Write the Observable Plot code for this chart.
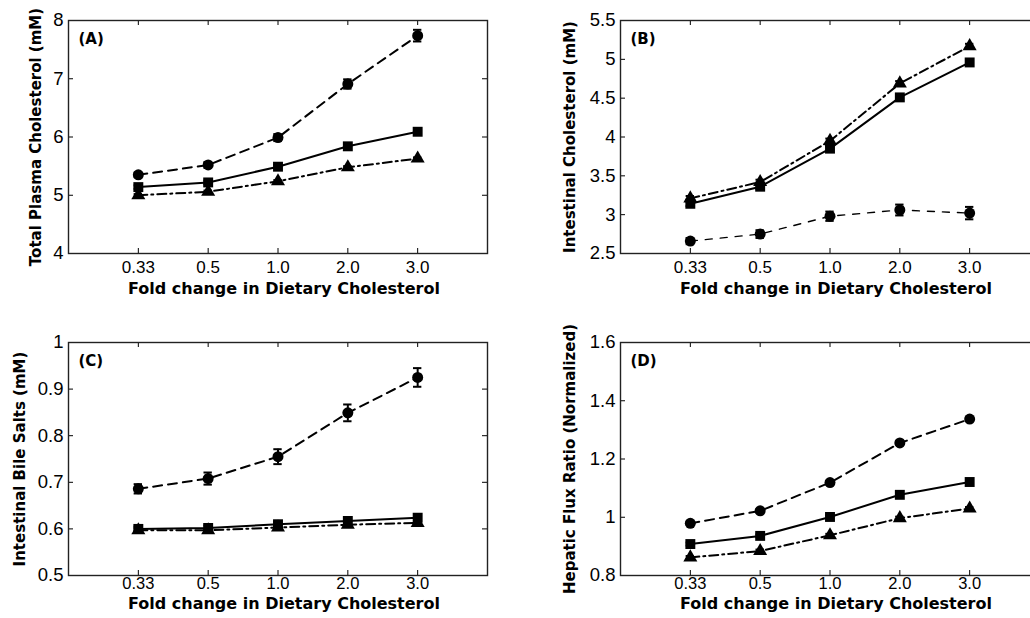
<!DOCTYPE html>
<html><head><meta charset="utf-8">
<script src="https://cdn.jsdelivr.net/npm/d3@7"></script>
<script src="https://cdn.jsdelivr.net/npm/@observablehq/plot@0.6"></script>
<style>
html,body{margin:0;padding:0;background:#fff;overflow:hidden;width:1030px;height:618px}
#wrap{position:relative;width:1030px;height:618px;overflow:hidden;background:#fff}
.panel{position:absolute}
</style></head><body><div id="wrap"></div>
<script>
// ---- data ----
const doseLabels = ["0.33", "0.5", "1.0", "2.0", "3.0"];
const xTitle = "Fold change in Dietary Cholesterol";
const panelTags = ["(A)", "(B)", "(C)", "(D)"];
const yTitles = ["Total Plasma Cholesterol (mM)", "Intestinal Cholesterol (mM)", "Intestinal Bile Salts (mM)", "Hepatic Flux Ratio (Normalized)"];
const yDomains = [[4, 8], [2.5, 5.5], [0.5, 1], [0.8, 1.6]];
const yTickValues = [[4, 5, 6, 7, 8], [2.5, 3, 3.5, 4, 4.5, 5, 5.5], [0.5, 0.6, 0.7, 0.8, 0.9, 1], [0.8, 1, 1.2, 1.4, 1.6]];

// Panel A: total plasma cholesterol
const plasmaCircle = [5.35, 5.52, 5.99, 6.91, 7.74];
const plasmaCircleErr = [0.04, 0.05, 0.06, 0.08, 0.1];
const plasmaSquare = [5.14, 5.22, 5.49, 5.84, 6.09];
const plasmaSquareErr = [0.03, 0.03, 0.03, 0.03, 0.03];
const plasmaTriangle = [5.0, 5.06, 5.24, 5.48, 5.63];
const plasmaTriangleErr = [0.02, 0.02, 0.02, 0.02, 0.02];

// Panel B: intestinal cholesterol
const intCholCircle = [2.66, 2.75, 2.98, 3.06, 3.02];
const intCholCircleErr = [0.04, 0.05, 0.06, 0.07, 0.08];
const intCholSquare = [3.14, 3.36, 3.85, 4.51, 4.96];
const intCholSquareErr = [0.03, 0.03, 0.03, 0.03, 0.03];
const intCholTriangle = [3.21, 3.42, 3.95, 4.69, 5.17];
const intCholTriangleErr = [0.03, 0.03, 0.03, 0.03, 0.03];

// Panel C: intestinal bile salts
const bileCircle = [0.686, 0.708, 0.755, 0.849, 0.925];
const bileCircleErr = [0.01, 0.013, 0.016, 0.018, 0.02];
const bileSquare = [0.600, 0.602, 0.610, 0.617, 0.624];
const bileSquareErr = [0.005, 0.005, 0.005, 0.005, 0.005];
const bileTriangle = [0.597, 0.597, 0.603, 0.609, 0.613];
const bileTriangleErr = [0.004, 0.004, 0.004, 0.004, 0.004];

// Panel D: hepatic flux ratio
const fluxCircle = [0.979, 1.022, 1.119, 1.255, 1.337];
const fluxCircleErr = [0.006, 0.006, 0.006, 0.006, 0.006];
const fluxSquare = [0.908, 0.936, 1.001, 1.077, 1.121];
const fluxSquareErr = [0.005, 0.005, 0.005, 0.005, 0.005];
const fluxTriangle = [0.862, 0.884, 0.938, 0.997, 1.03];
const fluxTriangleErr = [0.005, 0.005, 0.005, 0.005, 0.005];

const panelSeries = [
  [[plasmaCircle, plasmaCircleErr], [plasmaSquare, plasmaSquareErr], [plasmaTriangle, plasmaTriangleErr]],
  [[intCholCircle, intCholCircleErr], [intCholSquare, intCholSquareErr], [intCholTriangle, intCholTriangleErr]],
  [[bileCircle, bileCircleErr], [bileSquare, bileSquareErr], [bileTriangle, bileTriangleErr]],
  [[fluxCircle, fluxCircleErr], [fluxSquare, fluxSquareErr], [fluxTriangle, fluxTriangleErr]]
];

// ---- styles / layout ----
const symbols = ["circle", "square", "triangle"];
const symbolR = [5.5, 5.6, 5.2];
const lineDash = [["9,6", null, "9,4,2,4"], ["7,8", null, "9,4,2,4"], ["9,6", null, "9,4,2,4"], ["9,6", null, "9,4,2,4"]];
const lineWidth = [[2, 2, 2], [1.4, 2, 2], [2, 2, 2], [2, 2, 2]];
const positions = [[0, 0], [552, 0], [0, 322], [552, 322]];
const yTitleOffset = [32, 50, 48, 50];
const xTickPad = [7, 7, 2, 2];
const xTickFont = [17, 17, 16.5, 16.5];
const xTitleDy = [40, 40, 33, 33];

const W = 510, H = 300, ML = 68, MR = 23, MT = 20, MB = 47;
const innerW = W - ML - MR, innerH = H - MT - MB;
const xTicks = doseLabels.map((d, i) => i + 1);
const titleFont = "'DejaVu Sans', sans-serif";

const wrap = document.getElementById("wrap");
panelSeries.forEach((series, p) => {
  const rows = [];
  series.forEach(([vals, errs], s) => vals.forEach((v, i) => rows.push({s, x: i + 1, y: v, e: errs[i]})));
  const marks = [];
  series.forEach((_, s) => {
    const data = rows.filter(r => r.s === s);
    marks.push(Plot.line(data, {x: "x", y: "y", stroke: "#000", strokeWidth: lineWidth[p][s], strokeDasharray: lineDash[p][s]}));
    marks.push(Plot.ruleX(data, {x: "x", y1: d => d.y - d.e, y2: d => d.y + d.e, stroke: "#000", strokeWidth: 2}));
    marks.push(Plot.ruleY(data, {y: d => d.y - d.e, x1: d => d.x - 0.06, x2: d => d.x + 0.06, stroke: "#000", strokeWidth: 2}));
    marks.push(Plot.ruleY(data, {y: d => d.y + d.e, x1: d => d.x - 0.06, x2: d => d.x + 0.06, stroke: "#000", strokeWidth: 2}));
    marks.push(Plot.dot(data, {x: "x", y: "y", symbol: () => symbols[s], r: symbolR[s], fill: "#000", stroke: "none"}));
  });
  const yt = yTickValues[p];
  const plot = Plot.plot({
    width: W, height: H,
    marginLeft: ML, marginRight: MR, marginTop: MT, marginBottom: MB,
    style: {fontFamily: "'Liberation Sans', Arial, sans-serif", background: "transparent", color: "#000"},
    x: {domain: [0, 6]},
    y: {domain: yDomains[p]},
    symbol: {domain: symbols, range: symbols},
    marks: [
      Plot.axisX({anchor: "bottom", ticks: xTicks, tickSize: 0, tickPadding: xTickPad[p], tickFormat: d => doseLabels[d - 1], label: null, fontSize: xTickFont[p]}),
      Plot.axisY({anchor: "left", ticks: yt, tickSize: 0, tickPadding: 5, tickFormat: d => String(d), label: null, fontSize: 18.5}),
      Plot.tickX(xTicks, {x: d => d, insetTop: innerH - 5, stroke: "#000", strokeWidth: 1}),
      Plot.tickX(xTicks, {x: d => d, insetBottom: innerH - 5, stroke: "#000", strokeWidth: 1}),
      Plot.tickY(yt, {y: d => d, insetRight: innerW - 5, stroke: "#000", strokeWidth: 1}),
      Plot.tickY(yt, {y: d => d, insetLeft: innerW - 5, stroke: "#000", strokeWidth: 1}),
      Plot.frame({stroke: "#222", strokeWidth: 1.4}),
      ...marks,
      Plot.text([panelTags[p]], {frameAnchor: "top-left", dx: 10, dy: 13, textAnchor: "start", fontWeight: "bold", fontSize: 15, fontFamily: titleFont}),
      Plot.text([xTitle], {frameAnchor: "bottom", dx: 6, dy: xTitleDy[p], textAnchor: "middle", fontWeight: "bold", fontSize: 16, fontFamily: titleFont}),
      Plot.text([yTitles[p]], {frameAnchor: "left", dx: -yTitleOffset[p], rotate: -90, textAnchor: "middle", fontWeight: "bold", fontSize: 15, fontFamily: titleFont})
    ]
  });
  plot.classList.add("panel");
  plot.style.left = positions[p][0] + "px";
  plot.style.top = positions[p][1] + "px";
  plot.style.overflow = "visible";
  wrap.appendChild(plot);
});
</script></body></html>
